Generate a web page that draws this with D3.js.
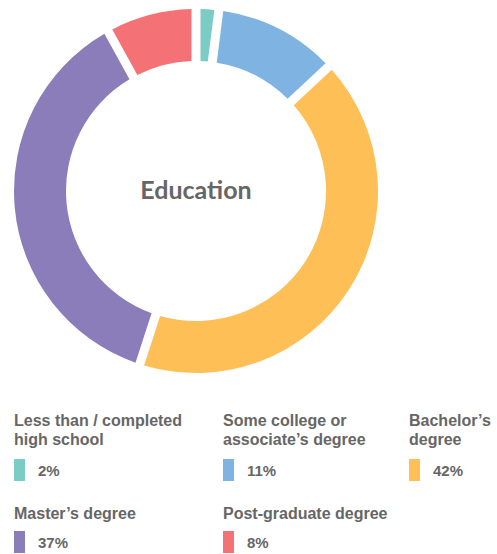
<!DOCTYPE html>
<html>
<head>
<script src="https://cdnjs.cloudflare.com/ajax/libs/d3/7.8.5/d3.min.js"></script>
<style>
  body { margin: 0; background: #fff; }
</style>
</head>
<body>
<div id="viz"></div>
<script>
// data
var categories = ["Less than / completed high school", "Some college or associate\u2019s degree", "Bachelor\u2019s degree", "Master\u2019s degree", "Post-graduate degree"];
var labelLines = [["Less than / completed", "high school"], ["Some college or", "associate\u2019s degree"], ["Bachelor\u2019s", "degree"], ["Master\u2019s degree"], ["Post-graduate degree"]];
var values = [2, 11, 42, 37, 8];
var colors = ["#7ACCC4", "#7FB3E1", "#FFBF57", "#8B7DBA", "#F47275"];

var width = 497, height = 554;
var cx = 196, cy = 191;
var outerR = 182, innerR = 130;

var svg = d3.select("#viz").append("svg")
  .attr("width", width)
  .attr("height", height);

var pie = d3.pie().sort(null).value(d => d);

var arc = d3.arc()
  .innerRadius(innerR)
  .outerRadius(outerR)
  .padAngle(9 / outerR)
  .padRadius(outerR);

var g = svg.append("g").attr("transform", "translate(" + cx + "," + cy + ")");

g.selectAll("path")
  .data(pie(values))
  .enter().append("path")
  .attr("fill", (d, i) => colors[i])
  .attr("d", arc);

g.append("text")
  .attr("text-anchor", "middle")
  .attr("y", 8)
  .style("font-family", "Lato, sans-serif")
  .style("font-weight", 700)
  .style("font-size", "25px")
  .attr("fill", "#666")
  .text("Education");

// legend
var colX = [14, 223, 409];
var rowY = [426, 519];
var legend = svg.append("g")
  .style("font-family", "'Liberation Sans', Arial, sans-serif")
  .style("font-weight", 700)
  .attr("fill", "#666");

categories.forEach(function(c, i) {
  var x = colX[i % 3];
  var y = rowY[Math.floor(i / 3)];
  var lines = labelLines[i];
  var t = legend.append("text").attr("x", x).attr("y", y).style("font-size", "16px");
  lines.forEach(function(l, j) {
    t.append("tspan").attr("x", x).attr("y", y + j * 19).text(l);
  });
  var sy = i < 3 ? 459 : 531;
  legend.append("rect")
    .attr("x", x).attr("y", sy)
    .attr("width", 11).attr("height", 22)
    .attr("fill", colors[i]);
  legend.append("text")
    .attr("x", x + 24).attr("y", sy + 17)
    .style("font-size", "15px")
    .text(values[i] + "%");
});
</script>
</body>
</html>
